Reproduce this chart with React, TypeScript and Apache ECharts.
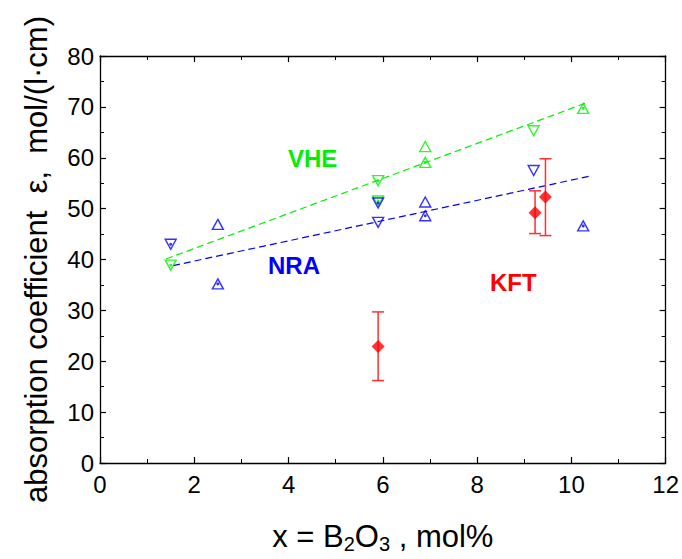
import React, { useEffect, useRef } from "react";
import * as echarts from "echarts";

// ---- data ----
const xTickValues = [0, 2, 4, 6, 8, 10, 12];
const yTickValues = [0, 10, 20, 30, 40, 50, 60, 70, 80];

// NRA (blue)
const nraUp = [[2.5, 46.9], [6.9, 51.3]];
const nraUpDot = [[2.5, 35.2], [6.9, 48.6], [10.25, 46.6]];
const nraDown = [[5.9, 47.3], [9.2, 57.5]];
const nraDownDot = [[1.5, 43.0], [5.9, 51.1]];
const nraFit = [[1.55, 38.8], [10.4, 56.4]];

// VHE (green)
const vheUp = [[6.9, 62.2]];
const vheUpDot = [[6.9, 59.1], [10.25, 69.7]];
const vheDown = [[9.2, 65.3]];
const vheDownDot = [[1.5, 38.9], [5.9, 55.5], [5.9, 51.5]];
const vheFit = [[1.4, 40.1], [10.35, 70.9]];

// KFT (red) with error bars
const kftX = [5.9, 9.23, 9.45];
const kftY = [22.9, 49.2, 52.3];
const kftLow = [16.2, 45.1, 44.7];
const kftHigh = [29.7, 53.5, 59.8];

const BLUE = "#0000ff";
const GREEN = "#00f000";
const RED = "#ff0000";
const FONT = "Liberation Sans, Arial, sans-serif";

export default function App() {
  const ref = useRef<HTMLDivElement>(null);

  useEffect(() => {
    if (!ref.current) return;
    const chart = echarts.init(ref.current, undefined, { renderer: "svg" });

    const tri = (name: string, data: number[][], color: string, down: boolean) => ({
      name,
      type: "scatter",
      data,
      symbol: "triangle",
      symbolSize: [11, 10],
      symbolRotate: down ? 180 : 0,
      itemStyle: { color: "rgba(0,0,0,0)", borderColor: color, borderWidth: 1.4 },
      z: 3,
    });
    const dot = (name: string, data: number[][], color: string) => ({
      name,
      type: "scatter",
      data,
      symbol: "circle",
      symbolSize: 3,
      itemStyle: { color },
      z: 4,
    });
    const fit = (name: string, data: number[][], color: string) => ({
      name,
      type: "line",
      data,
      showSymbol: false,
      symbol: "none",
      lineStyle: { color, width: 1.2, type: [7, 4] },
      z: 2,
    });

    const kftData = kftX.map((x, i) => [x, kftY[i], kftLow[i], kftHigh[i]]);

    const axisCommon = {
      type: "value" as const,
      axisLine: { show: true, onZero: false, lineStyle: { color: "#000", width: 1.3 } },
      axisTick: { show: true, inside: true, length: 6, lineStyle: { color: "#000", width: 1.2 } },
      minorTick: { show: true, splitNumber: 2, length: 4, lineStyle: { color: "#000", width: 1 } },
      splitLine: { show: false },
    };

    chart.setOption({
      animation: false,
      backgroundColor: "#fff",
      grid: { left: 100, right: 16, top: 56, bottom: 94, containLabel: false },
      xAxis: [
        {
          ...axisCommon,
          position: "bottom",
          min: xTickValues[0],
          max: xTickValues[xTickValues.length - 1],
          interval: 2,
          axisLabel: { fontSize: 24, color: "#000", margin: 9, fontFamily: FONT },
          name: "x = B{s|2}O{s|3} , mol%",
          nameLocation: "middle",
          nameGap: 55,
          nameTextStyle: {
            fontSize: 31,
            color: "#000",
            fontFamily: FONT,
            rich: {
              s: { fontSize: 20, color: "#000", fontFamily: FONT, padding: [16, 0, 0, 0] },
            },
          },
        },
        {
          ...axisCommon,
          position: "top",
          min: xTickValues[0],
          max: xTickValues[xTickValues.length - 1],
          interval: 2,
          axisLabel: { show: false },
        },
      ],
      yAxis: [
        {
          ...axisCommon,
          position: "left",
          min: yTickValues[0],
          max: yTickValues[yTickValues.length - 1],
          interval: 10,
          axisLabel: { fontSize: 24, color: "#000", margin: 6, fontFamily: FONT },
          name: "absorption coefficient  ε,  mol/(l·cm)",
          nameLocation: "middle",
          nameGap: 48,
          nameTextStyle: { fontSize: 31, color: "#000", fontFamily: FONT },
        },
        {
          ...axisCommon,
          position: "right",
          min: yTickValues[0],
          max: yTickValues[yTickValues.length - 1],
          interval: 10,
          axisLabel: { show: false },
        },
      ],
      series: [
        fit("VHE fit", vheFit, GREEN),
        fit("NRA fit", nraFit, BLUE),
        tri("VHE down", vheDown, GREEN, true),
        tri("VHE down dot", vheDownDot, GREEN, true),
        dot("VHE down dots", vheDownDot, GREEN),
        tri("VHE up", vheUp, GREEN, false),
        tri("VHE up dot", vheUpDot, GREEN, false),
        dot("VHE up dots", vheUpDot, GREEN),
        tri("NRA up", nraUp, BLUE, false),
        tri("NRA up dot", nraUpDot, BLUE, false),
        dot("NRA up dots", nraUpDot, BLUE),
        tri("NRA down", nraDown, BLUE, true),
        tri("NRA down dot", nraDownDot, BLUE, true),
        dot("NRA down dots", nraDownDot, BLUE),
        {
          name: "KFT err",
          type: "custom",
          data: kftData,
          encode: { x: 0, y: 1 },
          z: 5,
          renderItem: (params: any, api: any) => {
            const x = api.value(0);
            const lo = api.value(2);
            const hi = api.value(3);
            const pHi = api.coord([x, hi]);
            const pLo = api.coord([x, lo]);
            const w = 6;
            const st = { stroke: "#ff3030", lineWidth: 1.5 };
            return {
              type: "group",
              children: [
                { type: "line", shape: { x1: pHi[0], y1: pHi[1], x2: pLo[0], y2: pLo[1] }, style: st },
                { type: "line", shape: { x1: pHi[0] - w, y1: pHi[1], x2: pHi[0] + w, y2: pHi[1] }, style: st },
                { type: "line", shape: { x1: pLo[0] - w, y1: pLo[1], x2: pLo[0] + w, y2: pLo[1] }, style: st },
              ],
            };
          },
        },
        {
          name: "KFT",
          type: "scatter",
          data: kftX.map((x, i) => [x, kftY[i]]),
          symbol: "diamond",
          symbolSize: 13,
          itemStyle: { color: RED },
          z: 6,
        },
      ],
      graphic: [
        { type: "text", left: 288, top: 146, style: { text: "VHE", fill: GREEN, font: `bold 24px ${FONT}` } },
        { type: "text", left: 268, top: 253, style: { text: "NRA", fill: BLUE, font: `bold 24px ${FONT}` } },
        { type: "text", left: 490, top: 270, style: { text: "KFT", fill: RED, font: `bold 24px ${FONT}` } },
      ],
    });

    return () => chart.dispose();
  }, []);

  return <div ref={ref} style={{ width: 682, height: 559, position: "absolute", left: 0, top: 0 }} />;
}
